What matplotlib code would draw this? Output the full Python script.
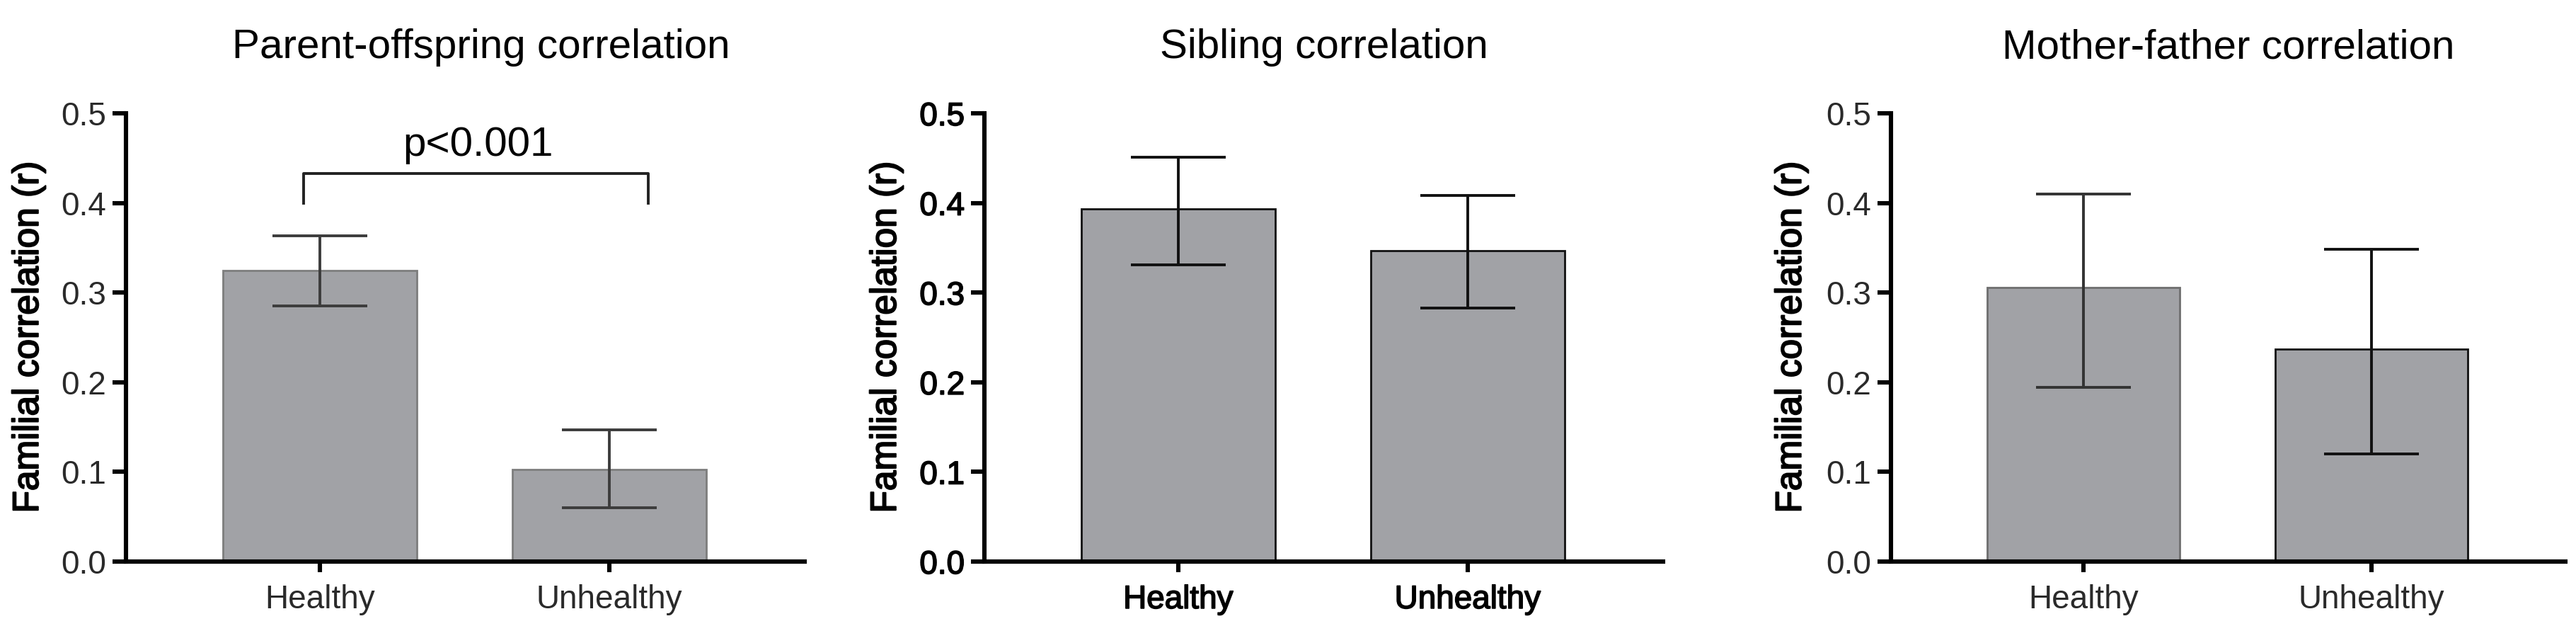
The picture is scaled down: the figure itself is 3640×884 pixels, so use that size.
"""
家族内相関（親子・兄弟・夫婦）を健康群/不健康群で比べる棒グラフ
"""
import matplotlib
matplotlib.use("Agg")
import matplotlib.pyplot as plt
import matplotlib.patheffects as pe
import numpy as np

plt.rcParams["font.family"] = ["Liberation Sans", "DejaVu Sans"]

groups = ["Healthy", "Unhealthy"]
titles = ["Parent-offspring correlation", "Sibling correlation", "Mother-father correlation"]

parent_offspring = [0.325, 0.103]
parent_offspring_low = [0.285, 0.060]
parent_offspring_high = [0.363, 0.147]

sibling = [0.393, 0.347]
sibling_low = [0.331, 0.283]
sibling_high = [0.451, 0.408]

mother_father = [0.306, 0.237]
mother_father_low = [0.194, 0.120]
mother_father_high = [0.410, 0.348]

y_ticks = [0.0, 0.1, 0.2, 0.3, 0.4, 0.5]
p_label = "p<0.001"

BAR_COLOR = "#a1a2a6"


def heavy(lw, color="black"):
    # 文字を少し太く見せる
    return [pe.Stroke(linewidth=lw, foreground=color), pe.Normal()]


def plot_panel(ax, values, low, high, title, edge_colors, err_colors, tick_color,
               tick_stroke=0.0, title_x=0.5):
    """
    1パネル分の棒グラフとエラーバーを描く
    """
    x = np.arange(len(groups))
    values = np.array(values)
    yerr = np.array([values - np.array(low), np.array(high) - values])
    ax.bar(x, values, width=0.67, color=BAR_COLOR, edgecolor=edge_colors, linewidth=1.0, zorder=2)
    for i in range(len(groups)):
        ax.errorbar(x[i], values[i], yerr=yerr[:, i:i + 1], fmt="none", ecolor=err_colors[i],
                    elinewidth=1.4, capsize=24, capthick=1.4, zorder=3)
    ax.set_xlim(-0.67, 1.675)
    ax.set_ylim(0, 0.5)
    ax.set_yticks(y_ticks)
    ax.set_yticklabels([f"{t:.1f}" for t in y_ticks])
    ax.set_xticks(x)
    ax.set_xticklabels(groups)
    for side in ["top", "right"]:
        ax.spines[side].set_visible(False)
    for side in ["left", "bottom"]:
        ax.spines[side].set_linewidth(2.2)
    ax.tick_params(axis="y", length=7, width=2.2, pad=3, labelsize=16.5, labelcolor=tick_color)
    ax.tick_params(axis="x", length=5.5, width=2.2, pad=6, labelsize=16.5, labelcolor=tick_color)
    if tick_stroke > 0:
        for lab in ax.get_xticklabels() + ax.get_yticklabels():
            lab.set_path_effects(heavy(tick_stroke, tick_color))
    ylab = ax.set_ylabel("Familial correlation (r)", fontsize=18.5)
    ylab.set_path_effects(heavy(0.7))
    ax.set_title(title, fontsize=21, pad=28, x=title_x)


fig = plt.figure(figsize=(18.2, 4.42), dpi=200)
bottom, height = 0.10294, 0.71606
ax1 = fig.add_axes([0.04890, bottom, 0.26346, height])
ax2 = fig.add_axes([0.38214, bottom, 0.26346, height])
ax3 = fig.add_axes([0.73407, bottom, 0.26181, height])

plot_panel(ax1, parent_offspring, parent_offspring_low, parent_offspring_high, titles[0],
           ["#7d7d7d", "#7d7d7d"], ["#3c3c3c", "#3c3c3c"], "#2a2a2a", title_x=0.523)
plot_panel(ax2, sibling, sibling_low, sibling_high, titles[1],
           ["#111111", "#111111"], ["#111111", "#111111"], "black", tick_stroke=0.6)
plot_panel(ax3, mother_father, mother_father_low, mother_father_high, titles[2],
           ["#6e6e6e", "#111111"], ["#333333", "#111111"], "#2a2a2a")

ax1.yaxis.set_label_coords(-0.118, 0.5)
ax2.yaxis.set_label_coords(-0.119, 0.5)
ax3.yaxis.set_label_coords(-0.122, 0.5)

# 親子相関の有意差ブラケット
ax1.plot([-0.056, -0.056, 1.135, 1.135], [0.400, 0.433, 0.433, 0.400], color="#222222", lw=1.4,
         clip_on=False)
ax1.text(0.547, 0.453, p_label, ha="center", va="baseline", fontsize=21)

fig.savefig("out.png", dpi=200)
